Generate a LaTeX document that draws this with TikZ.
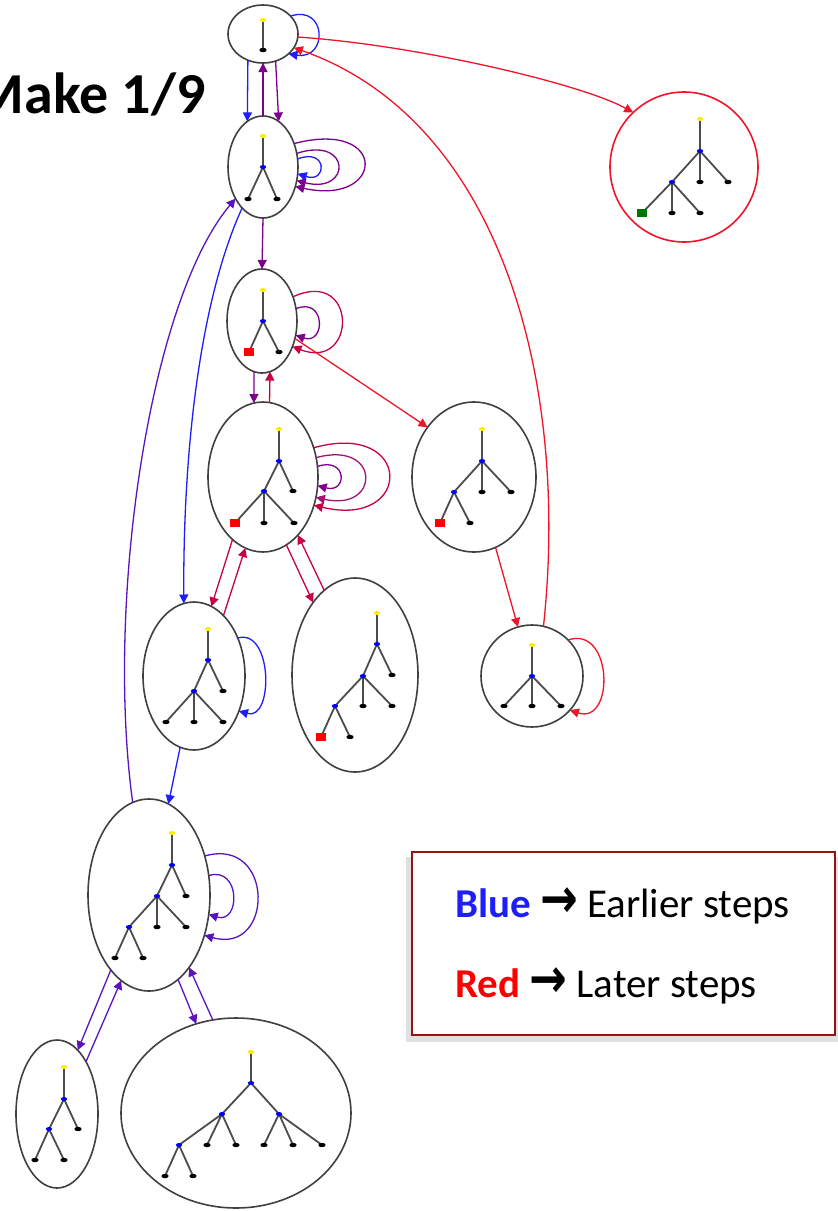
\documentclass[tikz,border=0pt]{standalone}
\usepackage{fontspec}
\setmainfont{Carlito}
\newfontfamily\symfont{DejaVu Sans}
\usepackage{xcolor}
\usepackage{graphicx}
\usetikzlibrary{positioning}
\usetikzlibrary{arrows, arrows.meta, shapes.geometric}

\definecolor{eblue}{RGB}{30,30,250}
\definecolor{epurple}{RGB}{125,0,140}
\definecolor{emagenta}{RGB}{160,20,120}
\definecolor{ecrimson}{RGB}{200,0,70}
\definecolor{ered}{RGB}{240,20,40}
\definecolor{eviolet}{RGB}{90,20,190}
\definecolor{lframe}{RGB}{150,20,20}

\tikzset{
  stage/.style 2 args={ellipse, draw=black!75, line width=0.8pt, inner sep=0pt,
    outer sep=0pt, minimum width=#1pt, minimum height=#2pt},
  link/.style={-{Triangle[length=4.5pt,width=4.5pt]}, line width=0.65pt},
  twig/.style={draw=black!70, line width=0.9pt},
}
\newcommand{\rootdot}[1]{\fill[yellow!95!orange] (#1) ellipse (1.6pt and 1pt);}
\newcommand{\knot}[1]{\fill[blue] (#1) ellipse (1.6pt and 1pt);}
\newcommand{\leafdot}[1]{\fill[black] (#1) ellipse (1.8pt and 1.1pt);}
\newcommand{\redleaf}[1]{\fill[red] (#1) +(-2.7pt,-1.8pt) rectangle +(2.7pt,1.8pt);}
\newcommand{\greenleaf}[1]{\fill[green!45!black] (#1) +(-2.7pt,-1.8pt) rectangle +(2.7pt,1.8pt);}
\newcommand{\keyarrow}{{\symfont\bfseries\scalebox{1.1}[1.35]{→}}}

\begin{document}
\begin{tikzpicture}[x=0.5pt,y=-0.5pt]
  \fill[white] (0,0) rectangle (838,1211);
  \useasboundingbox (0,0) rectangle (838,1211);

  \node[anchor=base east, inner sep=0pt, font=\bfseries\fontsize{29pt}{32pt}\selectfont] (title) at (206,113) {Make 1/9};

  % the states
  \node[stage={35}{29}] (n1) at (263,34) {};
  \node[stage={35}{51}] (n2) at (263,167) {};
  \node[stage={35}{52}] (n3) at (262,321) {};
  \node[stage={55}{75}] (n4) at (263,477) {};
  \node[stage={62}{75}] (n5) at (474,477) {};
  \node[stage={51}{51}] (n6) at (532,676) {};
  \node[stage={51}{74}] (n7) at (194,676) {};
  \node[stage={63}{97}] (n8) at (355,675) {};
  \node[stage={61}{96}] (n9) at (149,895) {};
  \node[stage={41}{74}] (n10) at (57,1114) {};
  \node[stage={115}{95}] (n11) at (236,1113) {};
  \node[stage={74}{75}, draw=ered] (n12) at (684,167) {};

  % trees inside the states
  \draw[twig] (263,20) -- (263,50);
  \rootdot{263,20} \leafdot{263,50}

  \draw[twig] (263,136) -- (263,167) -- (248,199) (263,167) -- (277,199);
  \rootdot{263,136} \knot{263,167}
  \leafdot{248,199} \leafdot{277,199}

  \draw[twig] (263,290) -- (263,321) -- (249,352) (263,321) -- (279,352);
  \rootdot{263,290} \knot{263,321}
  \redleaf{249,352} \leafdot{279,352}

  \draw[twig] (279,429) -- (279,461) -- (264,491) -- (235,523)
    (279,461) -- (293,491) (264,491) -- (264,523) (264,491) -- (294,523);
  \rootdot{279,429} \knot{279,461} \knot{264,491}
  \foreach \p in {{293,491},{264,523},{294,523}} {\leafdot{\p}}
  \redleaf{235,523}

  \draw[twig] (482,429) -- (482,461) -- (454,492) -- (440,523)
    (482,461) -- (482,492) (482,461) -- (511,492) (454,492) -- (470,523);
  \rootdot{482,429} \knot{482,461} \knot{454,492}
  \foreach \p in {{482,492},{511,492},{470,523}} {\leafdot{\p}}
  \redleaf{440,523}

  \draw[twig] (532,645) -- (532,676) -- (504,706)
    (532,676) -- (532,706) (532,676) -- (561,706);
  \rootdot{532,645} \knot{532,676}
  \foreach \p in {{504,706},{532,706},{561,706}} {\leafdot{\p}}

  \draw[twig] (208,629) -- (208,660) -- (194,691) -- (166,722)
    (208,660) -- (223,691) (194,691) -- (194,722) (194,691) -- (223,722);
  \rootdot{208,629} \knot{208,660} \knot{194,691}
  \foreach \p in {{223,691},{166,722},{194,722},{223,722}} {\leafdot{\p}}

  \draw[twig] (377,613) -- (377,644) -- (363,676) -- (335,706) -- (321,737)
    (377,644) -- (392,675) (363,676) -- (363,706) (363,676) -- (392,706)
    (335,706) -- (350,737);
  \rootdot{377,613} \knot{377,644} \knot{363,676} \knot{335,706}
  \foreach \p in {{392,675},{363,706},{392,706},{350,737}} {\leafdot{\p}}
  \redleaf{321,737}

  \draw[twig] (172,833) -- (172,865) -- (157,896) -- (129,927) -- (115,958)
    (172,865) -- (186,896) (157,896) -- (157,927) (157,896) -- (186,927)
    (129,927) -- (143,958);
  \rootdot{172,833} \knot{172,865} \knot{157,896} \knot{129,927}
  \foreach \p in {{186,896},{157,927},{186,927},{115,958},{143,958}} {\leafdot{\p}}

  \draw[twig] (64,1067) -- (64,1099) -- (49,1129) -- (35,1160)
    (64,1099) -- (78,1129) (49,1129) -- (64,1160);
  \rootdot{64,1067} \knot{64,1099} \knot{49,1129}
  \foreach \p in {{78,1129},{35,1160},{64,1160}} {\leafdot{\p}}

  \draw[twig] (251,1052) -- (251,1083) -- (222,1114) -- (179,1145) -- (165,1176)
    (251,1083) -- (279,1114) (222,1114) -- (207,1145) (222,1114) -- (236,1145)
    (279,1114) -- (264,1145) (279,1114) -- (293,1145) (279,1114) -- (322,1145)
    (179,1145) -- (193,1176);
  \rootdot{251,1052} \knot{251,1083} \knot{222,1114} \knot{279,1114} \knot{179,1145}
  \foreach \p in {{207,1145},{236,1145},{264,1145},{293,1145},{322,1145},{165,1176},{193,1176}} {\leafdot{\p}}

  \draw[twig] (700,119) -- (700,151) -- (672,182) -- (642,213)
    (700,151) -- (700,182) (700,151) -- (728,182)
    (672,182) -- (672,213) (672,182) -- (700,213);
  \rootdot{700,119} \knot{700,151} \knot{672,182}
  \foreach \p in {{700,182},{728,182},{672,213},{700,213}} {\leafdot{\p}}
  \greenleaf{642,213}

  % moves between states
  \draw[link,eblue] (n1.33) .. controls +(36,-12) and +(40,6) .. (n1.-38);
  \draw[link,eblue] (n1.-120) -- (n2.109);
  \draw[link,epurple] (n2.90) -- (n1.-90);
  \draw[link,epurple] (n1.-65) -- (n2.71);
  \draw[link,ered] (n1.-5) .. controls +(120,8) and +(-50,-28) .. (n12.133);
  \draw[link,ered] (n6.77) .. controls (570,380) and (500,120) .. (n1.-24);

  \draw[link,eblue] (n2.13) .. controls +(30,-12) and +(30,10) .. (n2.-11);
  \draw[link,epurple] (n2.22) .. controls +(55,-18) and +(55,14) .. (n2.-22);
  \draw[link,epurple] (n2.37) .. controls +(95,-25) and +(90,20) .. (n2.-31);
  \draw[link,epurple] (n2.-90) -- (n3.90);
  \draw[link,eviolet] (n9.100) .. controls (105,600) and (150,300) .. (n2.-131);
  \draw[link,eblue] (n2.-117) .. controls (200,300) and (183,450) .. (n7.98);

  \draw[link,epurple] (n3.20) .. controls +(30,-12) and +(30,10) .. (n3.-23);
  \draw[link,ecrimson] (n3.38) .. controls +(65,-30) and +(65,25) .. (n3.-40);
  \draw[link,epurple] (n3.-99) -- (n4.97);
  \draw[link,ecrimson] (n4.85) -- (n3.-81);
  \draw[link,ered] (n3.-28) -- (n5.133);

  \draw[link,epurple] (n4.11) .. controls +(30,-10) and +(30,8) .. (n4.-9);
  \draw[link,emagenta] (n4.20) .. controls +(65,-18) and +(65,15) .. (n4.-21);
  \draw[link,ecrimson] (n4.30) .. controls +(100,-28) and +(100,24) .. (n4.-29);
  \draw[link,ecrimson] (n4.-116) -- (n7.76);
  \draw[link,ecrimson] (n7.64) -- (n4.-104);
  \draw[link,ecrimson] (n4.-71) -- (n8.120);
  \draw[link,ecrimson] (n8.110) -- (n4.-59);

  \draw[link,ered] (n5.-73) -- (n6.106);
  \draw[link,ered] (n6.45) .. controls +(45,-15) and +(45,15) .. (n6.-42);

  \draw[link,eblue] (n7.41) .. controls +(35,-10) and +(35,10) .. (n7.-38);
  \draw[link,eblue] (n7.-101) -- (n9.78);

  \draw[link,eviolet] (n9.18) .. controls +(32,-10) and +(32,10) .. (n9.-18);
  \draw[link,eviolet] (n9.35) .. controls +(70,-20) and +(70,20) .. (n9.-36);
  \draw[link,eviolet] (n9.-117) -- (n10.72);
  \draw[link,eviolet] (n10.61) -- (n9.-108);
  \draw[link,eviolet] (n9.-71) -- (n11.114);
  \draw[link,eviolet] (n11.104) -- (n9.-61);

  % legend
  \fill[black!12] (406,857) rectangle (838,1042);
  \node[draw=lframe, fill=white, line width=0.8pt, minimum width=211.5pt, minimum height=91.5pt,
    inner sep=0pt] (legend) at (623.5,943.5) {};
  \node[anchor=base west, font=\fontsize{20.5pt}{24pt}\selectfont] (bluekey) at (448,917)
    {\textbf{\textcolor{eblue}{Blue}} \keyarrow{} Earlier steps};
  \node[anchor=base west, font=\fontsize{20.5pt}{24pt}\selectfont] (redkey) at (448,997)
    {\textbf{\textcolor{red}{Red}} \keyarrow{} Later steps};
\end{tikzpicture}
\end{document}
